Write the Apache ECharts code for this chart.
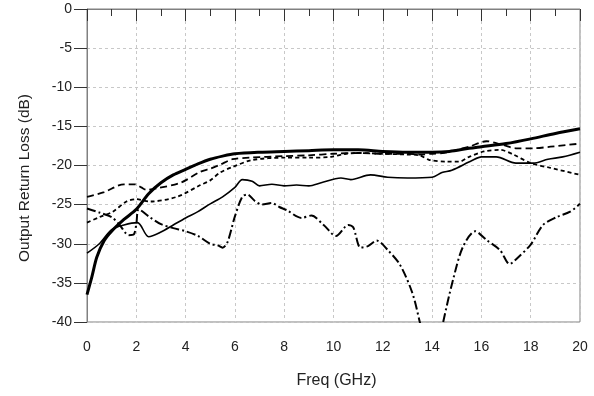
<!DOCTYPE html>
<html><head><meta charset="utf-8">
<script src="https://cdn.jsdelivr.net/npm/echarts@6/dist/echarts.min.js"></script>
<style>html,body{margin:0;padding:0;background:#fff}#c{width:594px;height:396px}</style>
</head><body><div id="c"></div>
<script>
// Thick solid
const freqA = [0,0.2,0.4,0.7,1.0,1.5,2.0,2.5,3.0,3.5,4.0,4.5,5.0,5.5,6.0,7.0,8.0,9.0,10.0,11.0,12.0,13.0,14.0,14.7,15.5,16.0,17.0,18.0,19.0,20.0];
const lossA = [-36.5,-34.2,-31.7,-29.6,-28.4,-26.9,-25.6,-23.6,-22.2,-21.2,-20.5,-19.8,-19.2,-18.8,-18.5,-18.3,-18.2,-18.1,-18.0,-18.0,-18.2,-18.3,-18.3,-18.2,-17.8,-17.6,-17.2,-16.6,-15.9,-15.3];
// Thin solid
const freqB = [0,0.5,1.0,1.5,2.05,2.5,3.0,3.5,4.0,4.5,5.0,5.5,6.0,6.3,6.7,7.0,7.5,8.0,8.5,9.0,9.5,10.3,10.7,11.5,12.2,13.0,14.0,14.4,14.8,15.6,16.0,16.6,17.4,18.1,18.7,19.3,20.0];
const lossB = [-31.2,-30.0,-28.2,-27.6,-27.3,-29.1,-28.5,-27.6,-26.7,-25.9,-24.9,-24.0,-22.8,-21.8,-22.0,-22.6,-22.4,-22.6,-22.5,-22.6,-22.2,-21.6,-21.8,-21.2,-21.5,-21.6,-21.5,-20.9,-20.6,-19.4,-18.9,-18.9,-19.7,-19.7,-19.2,-18.9,-18.3];
// Long dash
const freqC = [0,0.7,1.5,1.95,2.2,2.4,2.85,3.8,4.6,5.0,5.4,5.9,6.6,8.0,9.0,10.0,11.0,12.0,13.0,13.5,14.0,14.5,15.0,15.5,16.2,16.9,17.4,18.1,18.8,20.0];
const lossC = [-24.0,-23.4,-22.4,-22.4,-22.8,-23.1,-22.9,-22.2,-20.8,-20.4,-19.9,-19.2,-19.0,-18.8,-18.7,-18.5,-18.4,-18.5,-18.5,-18.6,-18.5,-18.4,-18.0,-17.6,-16.9,-17.4,-17.8,-17.8,-17.6,-17.2];
// Short dash
const freqD = [0,0.5,1.05,1.6,2.0,2.55,3.65,4.6,5.0,5.4,5.9,6.7,8.0,9.0,9.9,10.5,11.0,12.0,13.0,13.5,13.9,14.6,15.1,15.5,16.1,16.75,17.3,18.0,18.8,20.0];
const lossD = [-27.3,-26.6,-25.9,-24.6,-24.3,-24.6,-24.0,-22.5,-21.9,-20.9,-20.2,-19.3,-19.0,-19.0,-18.9,-18.5,-18.4,-18.5,-18.6,-18.7,-19.3,-19.5,-19.5,-18.9,-18.2,-18.0,-18.6,-19.7,-20.3,-21.2];
// Dash-dot
const freqE = [0,0.5,1.0,1.3,1.7,1.9,2.0,2.1,2.5,3.0,3.5,4.0,4.5,5.0,5.3,5.5,5.7,6.0,6.3,6.5,6.8,7.1,7.5,7.8,8.1,8.7,9.1,9.6,10.1,10.6,10.8,11.1,11.4,11.75,12.2,12.7,13.2,13.5,13.8,14.0,14.2,14.45,14.85,15.25,15.75,16.2,16.75,17.15,17.4,18.0,18.5,19.05,19.6,20.0];
const lossE = [-25.5,-26.0,-26.6,-27.5,-28.9,-28.8,-27.5,-25.6,-26.5,-27.5,-28.0,-28.4,-29.0,-30.0,-30.2,-30.5,-29.8,-26.5,-24.0,-23.7,-24.5,-25.0,-24.8,-25.3,-25.7,-26.7,-26.4,-27.6,-29.0,-27.6,-27.9,-30.5,-30.3,-29.6,-30.8,-32.7,-36.3,-40.0,-44.0,-46.0,-44.0,-40.0,-34.6,-30.4,-28.4,-29.5,-30.8,-32.6,-32.0,-30.1,-27.6,-26.6,-25.9,-24.9];

const pairs = (f, v) => f.map((x, i) => [x, v[i]]);
const xTicks = [0,2,4,6,8,10,12,14,16,18,20];
const yTicks = [0,-5,-10,-15,-20,-25,-30,-35,-40];
const xTitle = 'Freq (GHz)';
const yTitle = 'Output Return Loss (dB)';

const chart = echarts.init(document.getElementById('c'), null, {renderer: 'canvas'});
const font = 'Arial, "Liberation Sans", sans-serif';
const mk = (data, width, type) => ({
  type: 'line', data, showSymbol: false, smooth: 0.3, clip: true,
  lineStyle: {color: '#000', width, type}, animation: false
});
chart.setOption({
  animation: false,
  grid: {left: 87, right: 14, top: 9, bottom: 74, show: true, borderColor: '#808080', borderWidth: 1, containLabel: false},
  graphic: [{
    type: 'text', x: 25, y: 178, rotation: Math.PI / 2,
    style: {text: yTitle, font: '15.5px ' + font, fill: '#222', align: 'center', verticalAlign: 'middle'}
  }],
  xAxis: {
    type: 'value', min: xTicks[0], max: xTicks[xTicks.length-1], interval: 2,
    name: xTitle, nameLocation: 'middle', nameGap: 51,
    nameTextStyle: {fontFamily: font, fontSize: 16, color: '#222', padding: [0, 0, 0, 6]},
    axisLine: {lineStyle: {color: '#808080', width: 1}},
    axisTick: {show: true, length: 12, lineStyle: {color: '#333'}},
    minorTick: {show: true, splitNumber: 2, length: 7, lineStyle: {color: '#333'}},
    axisLabel: {fontFamily: font, fontSize: 14, color: '#222', margin: 18},
    splitLine: {show: true, lineStyle: {color: '#c8c8c8', type: [3,3], width: 1}}
  },
  yAxis: {
    type: 'value', min: yTicks[yTicks.length-1], max: yTicks[0], interval: 5,
    axisLine: {show: true, lineStyle: {color: '#808080', width: 1}},
    axisTick: {show: true, length: 13, lineStyle: {color: '#333'}},
    axisLabel: {fontFamily: font, fontSize: 14, color: '#222', margin: 15},
    splitLine: {show: true, lineStyle: {color: '#c8c8c8', type: [3,3], width: 1}}
  },
  series: [
    mk(pairs(freqB, lossB), 1.6, 'solid'),
    mk(pairs(freqC, lossC), 1.8, [7,4]),
    mk(pairs(freqD, lossD), 1.8, [4,3]),
    mk(pairs(freqE, lossE), 2, [9,3,2,3]),
    mk(pairs(freqA, lossA), 3, 'solid')
  ]
});
</script></body></html>
